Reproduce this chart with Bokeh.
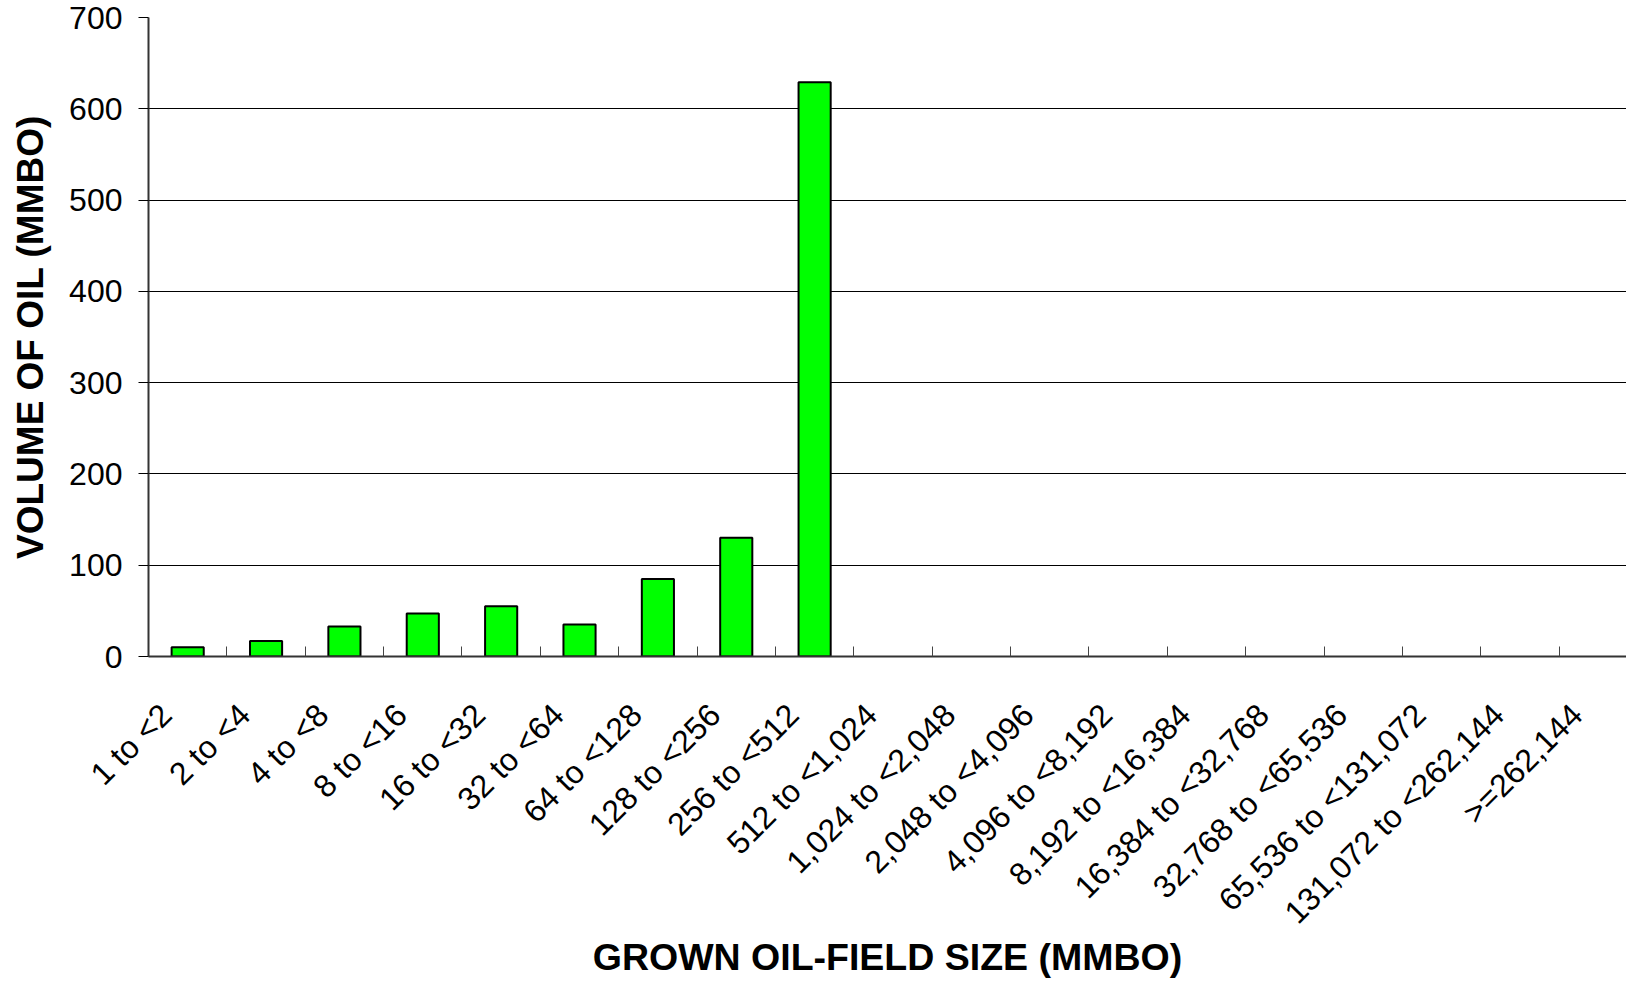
import math
from bokeh.plotting import figure
from bokeh.models import LinearAxis, FixedTicker, Range1d, ColumnDataSource, Grid
from bokeh.embed import file_html
from bokeh.resources import INLINE

# ---- data ----
size_classes = [
    "1 to <2", "2 to <4", "4 to <8", "8 to <16", "16 to <32", "32 to <64",
    "64 to <128", "128 to <256", "256 to <512", "512 to <1,024",
    "1,024 to <2,048", "2,048 to <4,096", "4,096 to <8,192",
    "8,192 to <16,384", "16,384 to <32,768", "32,768 to <65,536",
    "65,536 to <131,072", "131,072 to <262,144", ">=262,144",
]
oil_volume = [10, 17, 33, 47, 55, 35, 85, 130, 629,
              0, 0, 0, 0, 0, 0, 0, 0, 0, 0]
y_ticks = [0, 100, 200, 300, 400, 500, 600, 700]

FONT = "Liberation Sans"
X_END = 18.86          # visible part of the 19 classes
LABEL_SHIFT = 0.275    # rotated label anchor offset (fraction of a class)

centers = [i + 0.5 for i in range(len(size_classes))]
boundaries = list(range(1, len(size_classes)))
label_pos = [c - LABEL_SHIFT for c in centers]

src = ColumnDataSource(dict(
    x=[c for c, v in zip(centers, oil_volume) if v > 0],
    top=[v for v in oil_volume if v > 0],
))

p = figure(width=1626, height=981,
           x_range=Range1d(0, X_END), y_range=Range1d(y_ticks[0], y_ticks[-1]),
           output_backend="svg", toolbar_location=None,
           x_axis_location=None, y_axis_location="left",
           min_border_left=148, min_border_right=0,
           min_border_top=17, min_border_bottom=325)

p.background_fill_color = "white"
p.border_fill_color = "white"
p.outline_line_color = None

# y axis
ya = p.yaxis[0]
ya.ticker = FixedTicker(ticks=y_ticks)
ya.major_tick_out = 10
ya.major_tick_in = 0
ya.minor_tick_line_color = None
ya.axis_line_color = "#333333"
ya.axis_line_width = 2
ya.major_tick_line_color = "black"
ya.major_tick_line_width = 1
ya.major_label_standoff = 16
ya.major_label_text_font = FONT
ya.major_label_text_font_size = "32px"
ya.major_label_text_color = "black"
ya.axis_label = "VOLUME OF OIL (MMBO)"
ya.axis_label_text_font = FONT
ya.axis_label_text_font_style = "bold"
ya.axis_label_text_font_size = "37px"
ya.axis_label_text_color = "black"
ya.axis_label_standoff = 15

p.ygrid.ticker = FixedTicker(ticks=y_ticks[:-1])
p.ygrid.grid_line_color = "black"
p.ygrid.grid_line_width = 1
p.xgrid.grid_line_color = None
top_grid = Grid(dimension=1, ticker=FixedTicker(ticks=[y_ticks[-1]]),
                grid_line_color="#808080", grid_line_width=2.5)
p.add_layout(top_grid)

# x axis: class labels (major ticks, hidden) + boundary tick marks (minor ticks)
xa = LinearAxis(ticker=FixedTicker(ticks=label_pos, minor_ticks=boundaries))
xa.major_label_overrides = {lp: s for lp, s in zip(label_pos, size_classes)}
xa.axis_line_color = "#333333"
xa.axis_line_width = 2
xa.major_tick_line_color = None
xa.major_tick_in = 0
xa.major_tick_out = 0
xa.minor_tick_line_color = "#444444"
xa.minor_tick_line_width = 1
xa.minor_tick_in = 10
xa.minor_tick_out = 0
xa.major_label_orientation = math.pi / 4
xa.major_label_standoff = 53
xa.major_label_text_font = FONT
xa.major_label_text_font_size = "32px"
xa.major_label_text_color = "black"
xa.axis_label = "GROWN OIL-FIELD SIZE (MMBO)"
xa.axis_label_text_font = FONT
xa.axis_label_text_font_style = "bold"
xa.axis_label_text_font_size = "37.5px"
xa.axis_label_text_color = "black"
xa.axis_label_standoff = -10
p.add_layout(xa, "below")

p.vbar(x="x", top="top", width=0.41, source=src,
       fill_color="#00FF00", line_color="black", line_width=2)

open("out.html", "w").write(file_html(p, INLINE))
